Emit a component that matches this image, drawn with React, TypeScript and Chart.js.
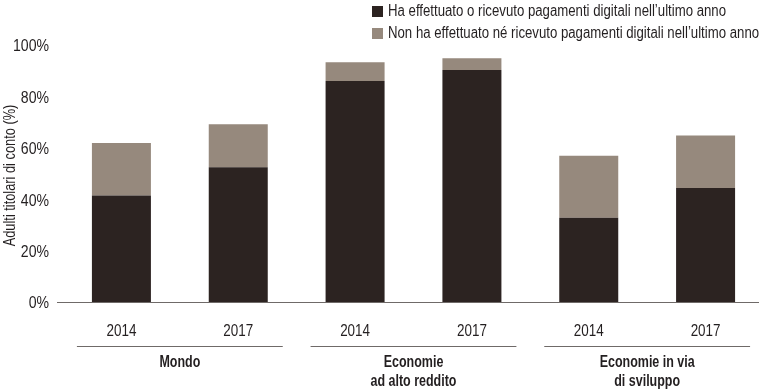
import React, { useEffect, useRef } from "react";
import { Chart, registerables } from "chart.js";

Chart.register(...registerables);

const categories = ["2014", "2017", "2014", "2017", "2014", "2017"];
const digitalPayments = [41.4, 52.4, 86.0, 90.3, 32.8, 44.4];
const noDigitalPayments = [20.5, 16.8, 7.3, 4.5, 24.1, 20.4];
const groupLabels = [["Mondo"], ["Economie", "ad alto reddito"], ["Economie in via", "di sviluppo"]];
const seriesLabels = [
  "Ha effettuato o ricevuto pagamenti digitali nell’ultimo anno",
  "Non ha effettuato né ricevuto pagamenti digitali nell’ultimo anno",
];
const yAxisTitle = "Adulti titolari di conto (%)";

const FONT = "'Liberation Sans', Arial, sans-serif";
const TEXT = "#231f20";
const DARK = "#2c2321";
const LIGHT = "#96897d";
const RULE = "#6f6a68";

function drawText(
  ctx: CanvasRenderingContext2D,
  s: string,
  x: number,
  y: number,
  font: string,
  sx: number,
  align: CanvasTextAlign,
  rotate = 0
) {
  ctx.save();
  ctx.translate(x, y);
  if (rotate) ctx.rotate(rotate);
  ctx.scale(sx, 1);
  ctx.font = font;
  ctx.fillStyle = TEXT;
  ctx.textAlign = align;
  ctx.textBaseline = "middle";
  ctx.fillText(s, 0, 0);
  ctx.restore();
}

const decor = {
  id: "decor",
  beforeDatasetsDraw(chart: any) {
    const { ctx, chartArea } = chart;
    ctx.save();
    ctx.strokeStyle = RULE;
    ctx.lineWidth = 1;
    const y = Math.round(chartArea.bottom) + 0.5;
    ctx.beginPath();
    ctx.moveTo(chartArea.left - 6, y);
    ctx.lineTo(chartArea.right - 5, y);
    ctx.stroke();
    ctx.restore();
  },
  afterDraw(chart: any) {
    const { ctx, chartArea, scales } = chart;
    const xs = scales.x;
    const ys = scales.y;

    // y tick labels
    ys.ticks.forEach((t: any) => {
      const y = ys.getPixelForValue(t.value);
      drawText(ctx, `${t.value}%`, 49, y + 2, `16px ${FONT}`, 0.88, "right");
    });

    // y axis title
    drawText(
      ctx,
      yAxisTitle,
      10.5,
      (chartArea.top + chartArea.bottom) / 2 + 2,
      `16px ${FONT}`,
      0.8,
      "center",
      -Math.PI / 2
    );

    // x tick labels
    (chart.data.labels as string[]).forEach((lab, i) => {
      const x = xs.getPixelForValue(i);
      drawText(ctx, lab, x, chartArea.bottom + 29.5, `16px ${FONT}`, 0.84, "center");
    });

    // group rules and labels
    groupLabels.forEach((lines, g) => {
      const x1 = xs.getPixelForValue(2 * g);
      const x2 = xs.getPixelForValue(2 * g + 1);
      const cx = (x1 + x2) / 2;
      const half = (x2 - x1) / 2 + 44.5;
      const ly = Math.round(chartArea.bottom + 43.5) + 0.5;
      ctx.save();
      ctx.strokeStyle = RULE;
      ctx.lineWidth = 1;
      ctx.beginPath();
      ctx.moveTo(cx - half, ly);
      ctx.lineTo(cx + half, ly);
      ctx.stroke();
      ctx.restore();
      lines.forEach((t, i) => {
        drawText(ctx, t, cx, chartArea.bottom + 60.5 + i * 19.5, `bold 16px ${FONT}`, 0.78, "center");
      });
    });

    // legend
    chart.data.datasets.forEach((ds: any, i: number) => {
      const y = 6 + i * 22;
      ctx.save();
      ctx.fillStyle = ds.backgroundColor;
      ctx.fillRect(372, y, 11, 11);
      ctx.restore();
      drawText(ctx, ds.label, 388, y + 6, `16px ${FONT}`, 0.825, "left");
    });
  },
};

export default function App() {
  const ref = useRef<HTMLCanvasElement>(null);
  useEffect(() => {
    const chart = new Chart(ref.current as HTMLCanvasElement, {
      type: "bar",
      data: {
        labels: categories,
        datasets: [
          {
            label: seriesLabels[0],
            data: digitalPayments,
            backgroundColor: DARK,
            barPercentage: 0.505,
            categoryPercentage: 1,
          },
          {
            label: seriesLabels[1],
            data: noDigitalPayments,
            backgroundColor: LIGHT,
            barPercentage: 0.505,
            categoryPercentage: 1,
          },
        ],
      },
      options: {
        responsive: false,
        animation: false,
        layout: { padding: { top: 45, right: 1, left: 0, bottom: 0 } },
        plugins: { legend: { display: false }, tooltip: { enabled: false } },
        scales: {
          x: {
            stacked: true,
            grid: { display: false, drawTicks: false },
            border: { display: false },
            ticks: { display: false },
            afterFit: (s: any) => {
              s.height = 88;
            },
          },
          y: {
            stacked: true,
            min: 0,
            max: 100,
            grid: { display: false, drawTicks: false },
            border: { display: false },
            ticks: { display: false, stepSize: 20 },
            afterFit: (s: any) => {
              s.width = 63;
            },
          },
        },
      },
      plugins: [decor],
    });
    return () => chart.destroy();
  }, []);
  return (
    <div style={{ position: "fixed", left: 0, top: 0, width: 765, height: 390, background: "#fff" }}>
      <canvas ref={ref} width={765} height={390} />
    </div>
  );
}
